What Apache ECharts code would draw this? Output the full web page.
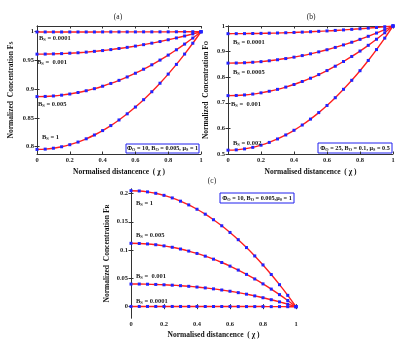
<!DOCTYPE html>
<html>
<head>
<meta charset="utf-8">
<title>Normalized concentration profiles</title>
<style>
  html, body { margin: 0; padding: 0; background: #fff; }
  #main { width: 413px; height: 347px; }
</style>
<script src="https://cdn.jsdelivr.net/npm/echarts@6/dist/echarts.min.js"></script>
</head>
<body>
<div id="main"></div>
<script>
// normalised distance, one marker every 0.05
var chi = [0, 0.05, 0.1, 0.15, 0.2, 0.25, 0.3, 0.35, 0.4, 0.45, 0.5,
           0.55, 0.6, 0.65, 0.7, 0.75, 0.8, 0.85, 0.9, 0.95, 1];

// (a) F_S, phi_O = 10, B_O = 0.005, mu_S = 1
var fsB0001 = [0.9996, 0.9996, 0.9996, 0.9996, 0.9996, 0.9996, 0.9996, 0.9996, 0.9997, 0.9997, 0.9997,
               0.9997, 0.9997, 0.9998, 0.9998, 0.9998, 0.9998, 0.9999, 0.9999, 1.0, 1.0];
var fsB001 = [0.961, 0.9611, 0.9614, 0.9619, 0.9626, 0.9634, 0.9645, 0.9658, 0.9672, 0.9689, 0.9708,
              0.9728, 0.9750, 0.9775, 0.9801, 0.9829, 0.9860, 0.9892, 0.9926, 0.9962, 1.0];
var fsB005 = [0.887, 0.8873, 0.8881, 0.8895, 0.8915, 0.8941, 0.8972, 0.9008, 0.9051, 0.9099, 0.9153,
              0.9212, 0.9277, 0.9347, 0.9424, 0.9506, 0.9593, 0.9686, 0.9785, 0.9890, 1.0];
var fsB1 = [0.795, 0.7955, 0.7971, 0.7996, 0.8032, 0.8078, 0.8135, 0.8201, 0.8278, 0.8365, 0.8463,
            0.8570, 0.8688, 0.8816, 0.8955, 0.9103, 0.9262, 0.9431, 0.9611, 0.9800, 1.0];

// (b) F_O, phi_O = 25, B_O = 0.1, mu_S = 0.5
var foB0001 = [0.970, 0.9701, 0.9703, 0.9707, 0.9712, 0.9719, 0.9727, 0.9737, 0.9748, 0.9761, 0.9775,
               0.9791, 0.9808, 0.9827, 0.9847, 0.9869, 0.9892, 0.9917, 0.9943, 0.9971, 1.0];
var foB0005 = [0.855, 0.8554, 0.8565, 0.8583, 0.8608, 0.8641, 0.8681, 0.8728, 0.8782, 0.8844, 0.8913,
               0.8989, 0.9072, 0.9163, 0.9261, 0.9366, 0.9478, 0.9598, 0.9725, 0.9859, 1.0];
var foB001 = [0.728, 0.7287, 0.7307, 0.7341, 0.7389, 0.7450, 0.7525, 0.7613, 0.7715, 0.7831, 0.7960,
              0.8103, 0.8259, 0.8429, 0.8613, 0.8810, 0.9021, 0.9245, 0.9483, 0.9735, 1.0];
var foB002 = [0.515, 0.5162, 0.5199, 0.5259, 0.5344, 0.5453, 0.5587, 0.5744, 0.5926, 0.6132, 0.6363,
              0.6617, 0.6896, 0.7199, 0.7527, 0.7878, 0.8254, 0.8654, 0.9079, 0.9527, 1.0];

// (c) F_R, phi_O = 10, B_O = 0.005, mu_S = 1
var frB1 = [0.205, 0.2045, 0.2029, 0.2004, 0.1968, 0.1922, 0.1865, 0.1799, 0.1722, 0.1635, 0.1537,
            0.1430, 0.1312, 0.1184, 0.1045, 0.0897, 0.0738, 0.0569, 0.0389, 0.0200, 0];
var frB005 = [0.112, 0.1117, 0.1109, 0.1095, 0.1075, 0.1050, 0.1019, 0.0983, 0.0941, 0.0893, 0.0840,
              0.0781, 0.0717, 0.0647, 0.0571, 0.0490, 0.0403, 0.0311, 0.0213, 0.0109, 0];
var frB001 = [0.040, 0.0400, 0.0397, 0.0393, 0.0387, 0.0380, 0.0371, 0.0360, 0.0347, 0.0332, 0.0315,
              0.0295, 0.0273, 0.0248, 0.0221, 0.0191, 0.0158, 0.0123, 0.0085, 0.0044, 0];
var frB0001 = [0.0004, 0.0004, 0.0004, 0.0004, 0.0004, 0.0004, 0.0004, 0.0004, 0.0003, 0.0003, 0.0003,
               0.0003, 0.0003, 0.0002, 0.0002, 0.0002, 0.0002, 0.0001, 0.0001, 0, 0];

var xTicks = [0, 0.2, 0.4, 0.6, 0.8, 1];
var yTicksA = [0.8, 0.85, 0.9, 0.95, 1];
var yTicksC = [0, 0.05, 0.1, 0.15, 0.2];

var FONT = 'Liberation Serif';
var RED = '#ff1f1f', BLUE = '#2222ff';

var grids = [
  { left: 37, top: 26, width: 164, height: 128 },
  { left: 228, top: 26, width: 165, height: 128 },
  { left: 131, top: 189, width: 165, height: 129 }
];

var tickLbl = { fontFamily: FONT, fontWeight: 'bold', fontSize: 6.5, color: '#222', margin: 3 };
var nameStyle = {
  fontFamily: FONT, fontWeight: 'bold', fontSize: 7.5, color: '#111',
  rich: {
    s: { fontFamily: FONT, fontWeight: 'bold', fontSize: 5.5, verticalAlign: 'bottom' }
  }
};

function xAx(g, top) {
  return {
    type: 'value', gridIndex: g, min: 0, max: 1, interval: 0.2,
    position: top ? 'top' : 'bottom',
    name: top ? '' : 'Normalised distancence  ( χ )',
    nameLocation: 'middle', nameGap: g === 2 ? 13 : 14,
    nameTextStyle: nameStyle,
    axisLine: { show: true, lineStyle: { color: '#333', width: 1 } },
    axisTick: { show: true, inside: true, length: 2.5, lineStyle: { color: '#333' } },
    axisLabel: Object.assign({ show: !top }, tickLbl),
    splitLine: { show: false }
  };
}

function yAx(g, right, min, max, ticks, interval, name, gap) {
  var ax = {
    type: 'value', gridIndex: g, min: min, max: max,
    position: right ? 'right' : 'left',
    name: right ? '' : name,
    nameLocation: 'middle', nameGap: gap, nameRotate: 90,
    nameTextStyle: nameStyle,
    axisLine: { show: true, lineStyle: { color: '#333', width: 1 } },
    axisTick: { show: true, inside: true, length: 2.5, lineStyle: { color: '#333' } },
    axisLabel: Object.assign({ show: !right }, tickLbl),
    splitLine: { show: false }
  };
  if (ticks) {
    ax.axisLabel.customValues = ticks;
    ax.axisTick.customValues = ticks;
  } else {
    ax.interval = interval;
  }
  return ax;
}

function curve(ys, g) {
  return {
    type: 'line', xAxisIndex: g, yAxisIndex: g,
    data: chi.map(function (x, i) { return [x, ys[i]]; }),
    smooth: 0.3,
    symbol: 'rect', symbolSize: 3,
    itemStyle: { color: BLUE },
    lineStyle: { color: RED, width: 1.4 },
    silent: true, animation: false, z: 3
  };
}

function sub(main, s, rest, x, y) {
  return {
    type: 'text', x: x, y: y, z: 10,
    style: {
      text: '{b|' + main + '}{s|' + s + '}{b|' + rest + '}',
      textVerticalAlign: 'middle',
      rich: {
        b: { fontFamily: FONT, fontWeight: 'bold', fontSize: 6.5, fill: '#222' },
        s: { fontFamily: FONT, fontWeight: 'bold', fontSize: 4.5, fill: '#222', padding: [4, 0, 0, 0] }
      }
    }
  };
}

function legendBox(x, y, w, h, parts) {
  return {
    type: 'group', z: 10,
    children: [
      { type: 'rect', shape: { x: x, y: y, width: w, height: h },
        style: { fill: '#fff', stroke: '#2020ee', lineWidth: 1 } },
      { type: 'text', x: x + w / 2, y: y + h / 2,
        style: {
          text: parts,
          textAlign: 'center', textVerticalAlign: 'middle',
          rich: {
            b: { fontFamily: FONT, fontWeight: 'bold', fontSize: 6.2, fill: '#111' },
            s: { fontFamily: FONT, fontWeight: 'bold', fontSize: 4.3, fill: '#111', padding: [3, 0, 0, 0] }
          }
        } }
    ]
  };
}

function title(t, x, y) {
  return { type: 'text', x: x, y: y,
    style: { text: t, fontFamily: FONT, fontSize: 7.5, fill: '#222', textAlign: 'center', textVerticalAlign: 'middle' } };
}

var chart = echarts.init(document.getElementById('main'), null, { renderer: 'canvas' });

chart.setOption({
  backgroundColor: '#fff',
  animation: false,
  grid: grids.map(function (g) { return Object.assign({ outerBoundsMode: 'none', containLabel: false }, g); }),
  xAxis: [xAx(0), xAx(1), xAx(2), xAx(0, true), xAx(1, true), xAx(2, true)],
  yAxis: [
    yAx(0, false, 0.787, 1.01, yTicksA, null, '{b|Normalized  Concentration F}{s|S}', 22),
    yAx(1, false, 0.5, 1, null, 0.1, '{b|Normalized  Concentration F}{s|O}', 18),
    yAx(2, false, -0.02, 0.208, yTicksC, null, '{b|Normalized  Concentration F}{s|R}', 20),
    yAx(0, true, 0.787, 1.01, yTicksA, null, '', 0),
    yAx(1, true, 0.5, 1, null, 0.1, '', 0),
    yAx(2, true, -0.02, 0.208, yTicksC, null, '', 0)
  ],
  series: [
    curve(fsB0001, 0), curve(fsB001, 0), curve(fsB005, 0), curve(fsB1, 0),
    curve(foB0001, 1), curve(foB0005, 1), curve(foB001, 1), curve(foB002, 1),
    curve(frB1, 2), curve(frB005, 2), curve(frB001, 2), curve(frB0001, 2)
  ],
  graphic: [
    title('(a)', 118, 17), title('(b)', 311, 17), title('(c)', 212, 181),
    sub('B', 'S', ' = 0.0001', 39, 38),
    sub('B', 'S', ' =  0.001', 37, 62),
    sub('B', 'S', ' = 0.005', 38, 104),
    sub('B', 'S', ' = 1', 42, 137),
    sub('B', 'S', ' = 0.0001', 233, 42),
    sub('B', 'S', ' = 0.0005', 233, 72),
    sub('B', 'S', ' =  0.001', 231, 104),
    sub('B', 'S', ' = 0.002', 233, 143),
    sub('B', 'S', ' = 1', 136, 203),
    sub('B', 'S', ' = 0.005', 136, 235),
    sub('B', 'S', ' =  0.001', 136, 276),
    sub('B', 'S', ' = 0.0001', 136, 301),
    legendBox(126, 144, 73, 9, '{b|Φ}{s|O}{b| = 10, B}{s|O}{b| = 0.005, μ}{s|S}{b| = 1}'),
    legendBox(318, 143, 74, 10, '{b|Φ}{s|O}{b| = 25, B}{s|O}{b| = 0.1, μ}{s|S}{b| = 0.5}'),
    legendBox(220, 193, 74, 10, '{b|Φ}{s|O}{b| = 10, B}{s|O}{b| = 0.005,μ}{s|S}{b| = 1}')
  ]
});
</script>
</body>
</html>
